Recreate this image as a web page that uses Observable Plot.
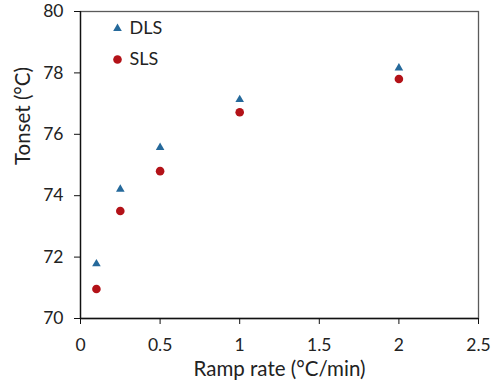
<!DOCTYPE html>
<html>
<head>
<meta charset="utf-8">
<script src="https://cdn.jsdelivr.net/npm/d3@7"></script>
<script src="https://cdn.jsdelivr.net/npm/@observablehq/plot@0.6"></script>
<style>
  html, body { margin: 0; padding: 0; background: #fff; }
  #chart svg { display: block; }
</style>
</head>
<body>
<div id="chart"></div>
<script>
const rampRate = [0.1, 0.25, 0.5, 1, 2];
const dlsOnset = [71.78, 74.21, 75.57, 77.13, 78.16];
const slsOnset = [70.96, 73.5, 74.8, 76.72, 77.8];
const xTicks = [0, 0.5, 1, 1.5, 2, 2.5];
const yTicks = [70, 72, 74, 76, 78, 80];
const seriesNames = ["DLS", "SLS"];
const xLabel = "Ramp rate (°C/min)";
const yLabel = "Tonset (°C)";

const blue = "#25699b";
const red = "#b31218";

const dls = rampRate.map((x, i) => ({x, y: dlsOnset[i]}));
const sls = rampRate.map((x, i) => ({x, y: slsOnset[i]}));

const chart = Plot.plot({
  width: 496,
  height: 391,
  marginLeft: 80,
  marginRight: 18,
  marginTop: 11,
  marginBottom: 73,
  style: {fontFamily: "Lato, sans-serif", fontSize: "17.5px", color: "#222", background: "#fff"},
  x: {domain: [0, 2.5]},
  y: {domain: [70, 80]},
  marks: [
    Plot.frame({stroke: "#5a5a5a", strokeWidth: 1.3}),
    Plot.ruleX([0], {stroke: "#111", strokeWidth: 1.3}),
    Plot.ruleY([70], {stroke: "#111", strokeWidth: 1.3}),
    Plot.axisX({ticks: xTicks, tickSize: 6, tickPadding: 14, tickFormat: d => String(d), label: null, stroke: "#111", fill: "#222"}),
    Plot.axisY({ticks: yTicks, tickSize: 6, tickPadding: 11, tickFormat: d => String(d), label: null, stroke: "#111", fill: "#222"}),
    Plot.text([xLabel], {frameAnchor: "bottom", dy: 57, text: d => d, fontSize: 20.5, fill: "#222"}),
    Plot.text([yLabel], {frameAnchor: "left", dx: -57, rotate: -90, text: d => d, fontSize: 20.5, fill: "#222"}),
    Plot.dot(dls, {x: "x", y: "y", symbol: "triangle", r: 3.2, fill: blue, stroke: null}),
    Plot.dot(sls, {x: "x", y: "y", symbol: "circle", r: 4.3, fill: red, stroke: null}),
    Plot.dot([seriesNames[0]], {frameAnchor: "top-left", dx: 37, dy: 17, symbol: "triangle", r: 3.2, fill: blue, stroke: null}),
    Plot.dot([seriesNames[1]], {frameAnchor: "top-left", dx: 37, dy: 48, symbol: "circle", r: 4.3, fill: red, stroke: null}),
    Plot.text([seriesNames[0]], {frameAnchor: "top-left", dx: 49, dy: 17, text: d => d, textAnchor: "start", lineAnchor: "middle", fontSize: 18, fill: "#222"}),
    Plot.text([seriesNames[1]], {frameAnchor: "top-left", dx: 49, dy: 48, text: d => d, textAnchor: "start", lineAnchor: "middle", fontSize: 18, fill: "#222"})
  ]
});
document.getElementById("chart").appendChild(chart);
</script>
</body>
</html>
